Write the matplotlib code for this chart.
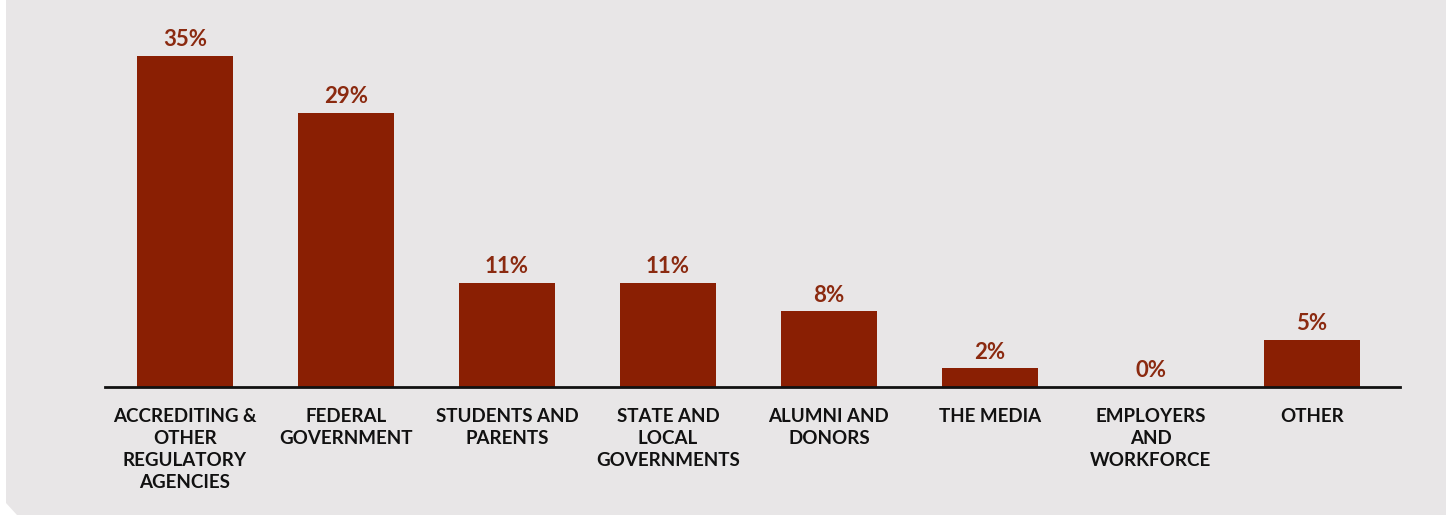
import matplotlib.pyplot as plt
from matplotlib.patches import Polygon

# Survey shares by group
categories = [
    "ACCREDITING &\nOTHER\nREGULATORY\nAGENCIES",
    "FEDERAL\nGOVERNMENT",
    "STUDENTS AND\nPARENTS",
    "STATE AND\nLOCAL\nGOVERNMENTS",
    "ALUMNI AND\nDONORS",
    "THE MEDIA",
    "EMPLOYERS\nAND\nWORKFORCE",
    "OTHER",
]
values = [35, 29, 11, 11, 8, 2, 0, 5]
value_labels = ["35%", "29%", "11%", "11%", "8%", "2%", "0%", "5%"]

W, H = 1454, 515
bar_color = "#8a1f03"
label_color = "#8b2a10"
panel_color = "#e8e6e7"

plt.rcParams['font.family'] = ['Lato', 'DejaVu Sans']

fig = plt.figure(figsize=(W / 100, H / 100), dpi=100, facecolor="white")

# grey panel with the clipped bottom-left corner
panel = Polygon([(6 / W, 1), (1446 / W, 1), (1446 / W, 0), (17 / W, 0),
                 (6 / W, 12 / H)], closed=True, transform=fig.transFigure,
                facecolor=panel_color, edgecolor="none", zorder=-5)
fig.patches.append(panel)

left, right = 105 / W, 1400 / W
bottom, top = 1 - 387 / H, 1 - 20 / H
ax = fig.add_axes([left, bottom, right - left, top - bottom])
ax.set_facecolor("none")

x = range(len(values))
ax.bar(x, values, width=0.596, color=bar_color, zorder=2)

for xi, v, lab in zip(x, values, value_labels):
    ax.annotate(lab, (xi, v), xytext=(0, 4), textcoords="offset points",
                ha="center", va="bottom", fontsize=16, fontweight="bold",
                color=label_color)

ax.set_xlim(-0.497, 7.547)
ax.set_ylim(0, 38.8)
ax.set_yticks([])
ax.set_xticks(list(x))
ax.set_xticklabels(categories, fontsize=13.5, fontweight="bold",
                   linespacing=1.37, color="#111111")
ax.tick_params(axis="x", length=0, pad=15)

for s in ["top", "right", "left"]:
    ax.spines[s].set_visible(False)
ax.spines["bottom"].set_linewidth(2)
ax.spines["bottom"].set_color("#111111")
ax.spines["bottom"].set_zorder(3)

fig.savefig("out.png", dpi=100, facecolor="white")
